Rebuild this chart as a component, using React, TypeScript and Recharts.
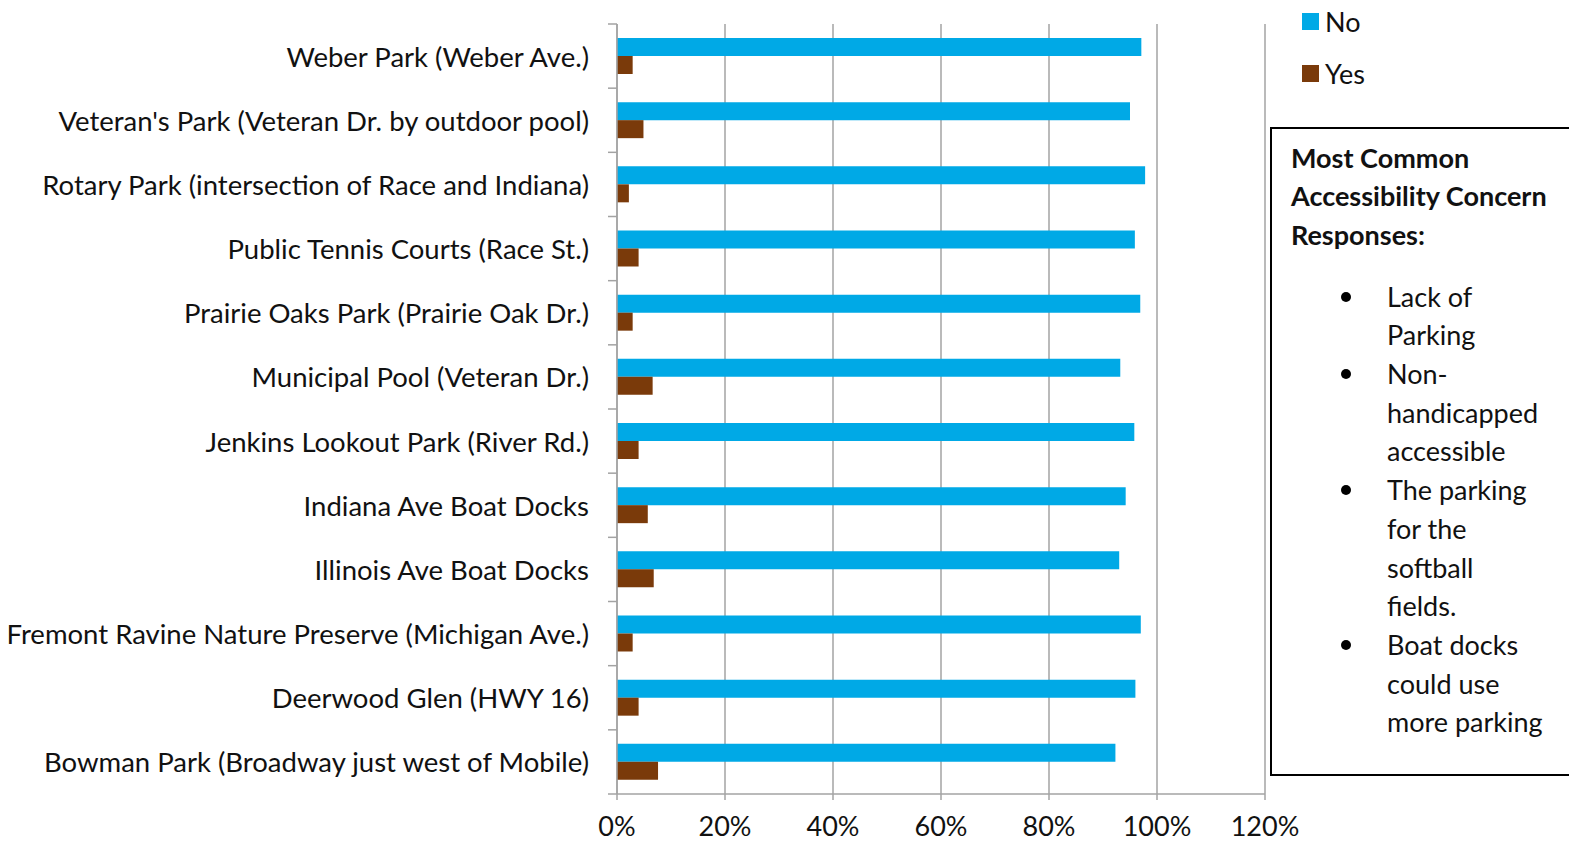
import { BarChart, Bar, XAxis, YAxis, CartesianGrid } from 'recharts'

const parks = [
  'Weber Park (Weber Ave.)',
  "Veteran's Park (Veteran Dr. by outdoor pool)",
  'Rotary Park (intersection of Race and Indiana)',
  'Public Tennis Courts (Race St.)',
  'Prairie Oaks Park (Prairie Oak Dr.)',
  'Municipal Pool (Veteran Dr.)',
  'Jenkins Lookout Park (River Rd.)',
  'Indiana Ave Boat Docks',
  'Illinois Ave Boat Docks',
  'Fremont Ravine Nature Preserve (Michigan Ave.)',
  'Deerwood Glen (HWY 16)',
  'Bowman Park (Broadway just west of Mobile)',
]
const noShare = [97.1, 95.0, 97.8, 95.9, 96.9, 93.2, 95.8, 94.2, 93.0, 97.0, 96.0, 92.3]
const yesShare = [2.9, 4.9, 2.2, 4.0, 2.9, 6.6, 4.0, 5.7, 6.8, 2.9, 4.0, 7.6]
const xTicks = [0, 20, 40, 60, 80, 100, 120]

const legendItems = [
  { name: 'No', color: '#00A9E6' },
  { name: 'Yes', color: '#7A3A0A' },
]
const boxTitle = ['Most Common', 'Accessibility Concern', 'Responses:']
const boxItems = [
  ['Lack of', 'Parking'],
  ['Non-', 'handicapped', 'accessible'],
  ['The parking', 'for the', 'softball', 'fields.'],
  ['Boat docks', 'could use', 'more parking'],
]

const data = parks.map((park, i) => ({ park, No: noShare[i], Yes: yesShare[i] }))

const FONT = 'Lato, "Open Sans", sans-serif'
const FS = 27
const GRID = '#a3a3a3'
const LINE_H = 38.7

function ParkTick(props: any) {
  const { x, y, payload, index } = props
  const half = payload?.offset ?? 32
  return (
    <g>
      <text x={x} y={y} textAnchor="end" dominantBaseline="central" fontSize={27.5} fontFamily={FONT} fill="#111">
        {payload.value}
      </text>
      <line x1={x + 19} x2={x + 28} y1={y - half} y2={y - half} stroke={GRID} strokeWidth={1.5} />
      {index === parks.length - 1 && (
        <line x1={x + 19} x2={x + 28} y1={y + half} y2={y + half} stroke={GRID} strokeWidth={1.5} />
      )}
    </g>
  )
}

export default function App() {
  // list lines laid out one after another, bullet on the first line of each item
  let row = 0
  const listLines: { text: string; bullet: boolean; row: number }[] = []
  boxItems.forEach((item) => {
    item.forEach((t, j) => listLines.push({ text: t, bullet: j === 0, row: row++ }))
  })

  return (
    <div
      style={{
        position: 'absolute',
        left: 0,
        top: 0,
        width: 1569,
        height: 842,
        overflow: 'hidden',
        background: '#fff',
        fontFamily: FONT,
        color: '#111',
      }}
    >
      <BarChart
        width={1300}
        height={842}
        data={data}
        layout="vertical"
        margin={{ top: 24, right: 35, bottom: 0, left: 0 }}
        barCategoryGap={14}
        barGap={0}
      >
        <CartesianGrid horizontal={false} stroke={GRID} strokeWidth={1.5} />
        <XAxis
          type="number"
          domain={[0, 120]}
          ticks={xTicks}
          interval={0}
          tickFormatter={(v: number) => `${v}%`}
          tick={{ fill: '#111', fontSize: FS, fontFamily: FONT }}
          tickSize={6}
          tickMargin={17}
          height={48}
          axisLine={{ stroke: GRID, strokeWidth: 1.5 }}
          tickLine={{ stroke: GRID, strokeWidth: 1.5 }}
        />
        <YAxis
          type="category"
          dataKey="park"
          width={617}
          tick={<ParkTick />}
          tickLine={false}
          tickSize={0}
          tickMargin={28}
          interval={0}
          axisLine={{ stroke: GRID, strokeWidth: 1.5 }}
        />
        <Bar dataKey="No" fill={legendItems[0].color} isAnimationActive={false} />
        <Bar dataKey="Yes" fill={legendItems[1].color} isAnimationActive={false} />
      </BarChart>

      {legendItems.map((it, i) => (
        <div
          key={it.name}
          style={{ position: 'absolute', left: 1302, top: 13 + i * 52, display: 'flex', alignItems: 'center', height: 17 }}
        >
          <span style={{ width: 17, height: 17, background: it.color, display: 'inline-block' }} />
          <span style={{ marginLeft: 6, fontSize: FS, lineHeight: '17px' }}>{it.name}</span>
        </div>
      ))}

      <div
        style={{
          position: 'absolute',
          left: 1270,
          top: 127,
          width: 320,
          height: 649,
          border: '2px solid #000',
          boxSizing: 'border-box',
        }}
      />
      {boxTitle.map((t, i) => (
        <div
          key={t}
          style={{
            position: 'absolute',
            left: 1291,
            top: 158 - LINE_H / 2 + i * LINE_H,
            lineHeight: `${LINE_H}px`,
            fontSize: FS,
            fontWeight: 700,
            whiteSpace: 'nowrap',
          }}
        >
          {t}
        </div>
      ))}
      {listLines.map((l) => (
        <div key={l.row} style={{ position: 'absolute', top: 297 - LINE_H / 2 + l.row * LINE_H, left: 1336, height: LINE_H }}>
          {l.bullet && (
            <span
              style={{
                position: 'absolute',
                left: 5,
                top: LINE_H / 2 - 5,
                width: 10,
                height: 10,
                borderRadius: 5,
                background: '#000',
              }}
            />
          )}
          <span
            style={{
              position: 'absolute',
              left: 51,
              top: 0,
              lineHeight: `${LINE_H}px`,
              fontSize: FS,
              whiteSpace: 'nowrap',
            }}
          >
            {l.text}
          </span>
        </div>
      ))}
    </div>
  )
}
